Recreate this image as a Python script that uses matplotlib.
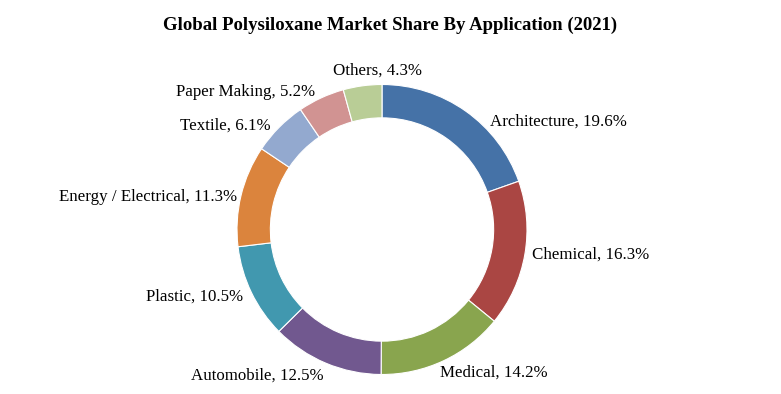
import matplotlib
matplotlib.use("Agg")
import matplotlib.pyplot as plt

categories = ["Architecture", "Chemical", "Medical", "Automobile", "Plastic",
              "Energy / Electrical", "Textile", "Paper Making", "Others"]
shares = [19.6, 16.3, 14.2, 12.5, 10.5, 11.3, 6.1, 5.2, 4.3]
colors = ["#4572A7", "#AA4643", "#89A54E", "#71588F", "#4198AF",
          "#DB843D", "#93A9CF", "#D19392", "#B9CD96"]
title = "Global Polysiloxane Market Share By Application (2021)"

# label layout: (x pixel, y pixel from top, horizontal alignment)
label_pos = [(490, 122, "left"), (532, 255, "left"), (440, 373, "left"),
             (324, 376, "right"), (243, 297, "right"), (237, 197, "right"),
             (271, 126, "right"), (315, 92, "right"), (333, 71, "left")]

W, H = 781, 394
fig = plt.figure(figsize=(W / 100, H / 100), dpi=100)
plt.rcParams['font.family'] = ['Liberation Serif', 'DejaVu Serif']

cx, cy, R = 382, 229.5, 145
ax = fig.add_axes([(cx - R) / W, (H - cy - R) / H, 2 * R / W, 2 * R / H])
ax.pie(shares, colors=colors, startangle=90, counterclock=False,
       radius=1.0, wedgeprops=dict(width=0.23, edgecolor="white", linewidth=0.8))
ax.set_xlim(-1, 1)
ax.set_ylim(-1, 1)
ax.set_aspect("equal")
ax.axis("off")

for cat, val, (px, py, ha) in zip(categories, shares, label_pos):
    fig.text(px / W, (H - py) / H, f"{cat}, {val}%", ha=ha, va="center",
             fontsize=12.2, color="#000000")

fig.text(390 / W, (H - 25) / H, title, ha="center", va="center",
         fontsize=13.5, fontweight="bold", color="#000000")

fig.savefig("out.png", dpi=100, facecolor="white")
